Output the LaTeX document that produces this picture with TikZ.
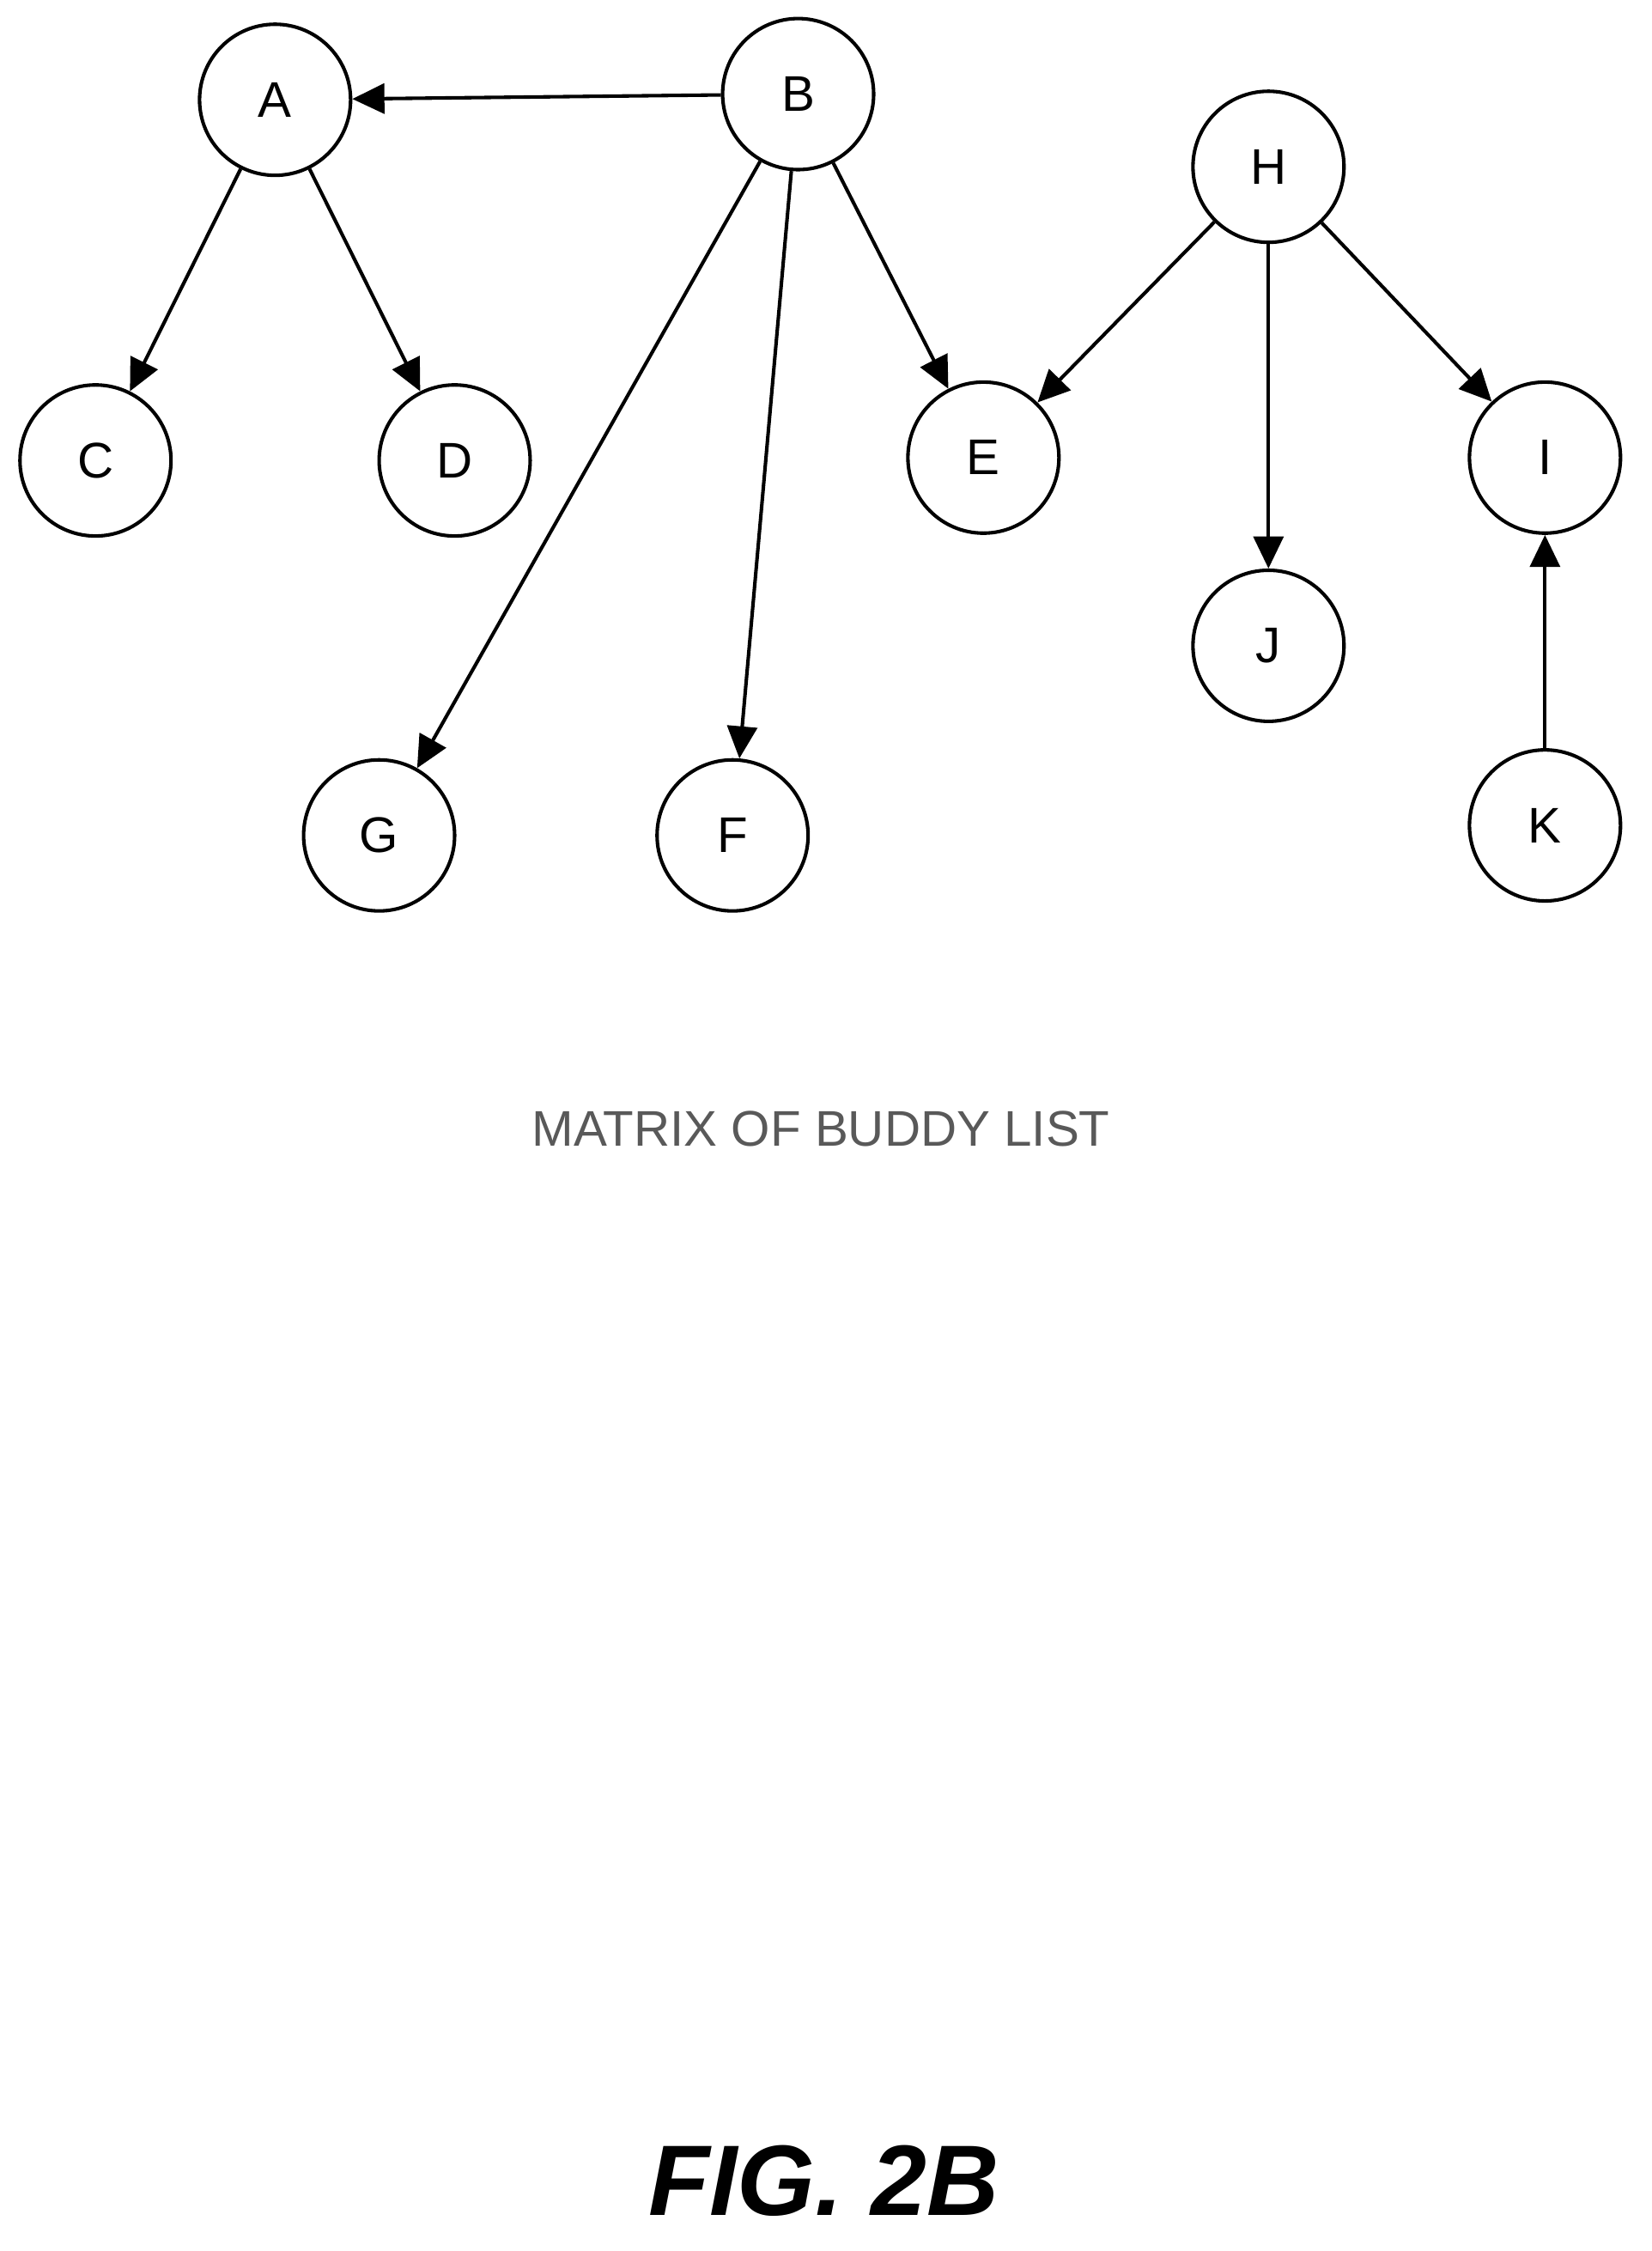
\documentclass[tikz,border=0pt]{standalone}
\usepackage{fontspec}
\setmainfont{Liberation Sans}
\usetikzlibrary{arrows.meta}
\begin{document}
\begin{tikzpicture}[x=0.02cm, y=-0.02cm,
        person/.style={circle, draw, line width=1.4pt, minimum size=2.12cm, inner sep=0pt, font=\fontsize{20}{24}\selectfont},
        arrow/.style={-{Triangle[length=0.45cm,width=0.42cm]}, line width=1.4pt}
    ]
    \useasboundingbox (0,0) rectangle (1159,1579);

    % Buddies
    \node[person] (A) at (193,70) {A};
    \node[person] (B) at (560,66) {B};
    \node[person] (H) at (890,117) {H};
    \node[person] (C) at (67,323) {C};
    \node[person] (D) at (319,323) {D};
    \node[person] (E) at (690,321) {E};
    \node[person] (I) at (1084,321) {I};
    \node[person] (J) at (890,453) {J};
    \node[person] (G) at (266,586) {G};
    \node[person] (F) at (514,586) {F};
    \node[person] (K) at (1084,579) {K};

    % Links
    \draw[arrow] (B) -- (A);
    \draw[arrow] (A) -- (C);
    \draw[arrow] (A) -- (D);
    \draw[arrow] (B) -- (G);
    \draw[arrow] (B) -- (F);
    \draw[arrow] (B) -- (E);
    \draw[arrow] (H) -- (E);
    \draw[arrow] (H) -- (J);
    \draw[arrow] (H) -- (I);
    \draw[arrow] (K) -- (I);

    % Captions
    \node[text=gray!70!black, font=\fontsize{20}{24}\selectfont] (title) at (576,792) {MATRIX OF BUDDY LIST};
    \node[font=\fontsize{40}{48}\selectfont\bfseries\itshape] (fig) at (578,1530) {FIG. 2B};
\end{tikzpicture}
\end{document}
